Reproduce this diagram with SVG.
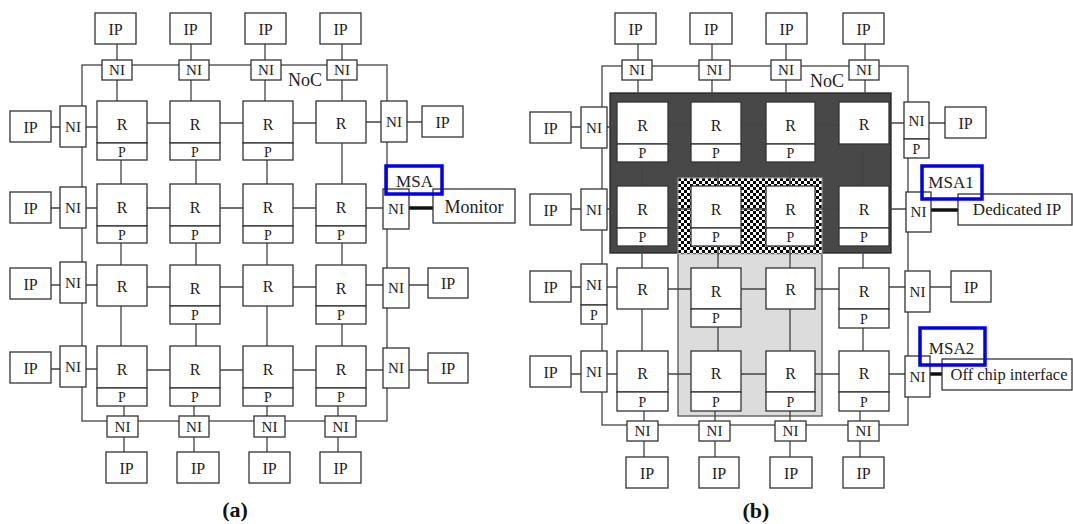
<svg xmlns="http://www.w3.org/2000/svg" width="1073" height="524" viewBox="0 0 1073 524">
<defs>
<pattern id="chk" width="6" height="6" patternUnits="userSpaceOnUse" x="678" y="178">
<rect x="0" y="0" width="6" height="6" fill="#fff"/>
<rect x="0" y="0" width="3" height="3" fill="#000"/>
<rect x="3" y="3" width="3" height="3" fill="#000"/>
</pattern>
<style>
.b{fill:#fff;stroke:#333;stroke-width:1.3}
.ln{stroke:#444;stroke-width:1.3;fill:none}
.th{stroke:#111;stroke-width:3.5;fill:none}
.t{font-family:"Liberation Serif","Times New Roman",serif;fill:#222;text-anchor:middle}
.s16{font-size:16px}
.s15{font-size:15px}
.s14{font-size:14px}
.s17{font-size:17px}
.msa{fill:none;stroke:#0000ee;stroke-width:3.5}
.lbl{font-family:"Liberation Serif",serif;font-weight:bold;font-size:22px;fill:#111;text-anchor:middle}
</style>
</defs>
<rect width="1073" height="524" fill="#fff"/>

<g id="regions">
<rect x="610" y="93" width="281" height="160" fill="#484848" stroke="#222" stroke-width="1.3"/>
<rect x="678" y="253" width="144" height="163" fill="#dcdcdc" stroke="#555" stroke-width="1.3"/>
<rect x="678" y="178" width="144" height="76" fill="url(#chk)" stroke="#aaa" stroke-width="1"/>
</g>

<g id="connectors">
<rect class="ln" x="82" y="65" width="305" height="356"/>
<path class="ln" d="M51 127H97M147 123H316M366 122H422"/>
<path class="ln" d="M51 208H97M147 208H383"/>
<path class="ln" d="M51 285H97M147 287H316M366 285H428"/>
<path class="ln" d="M51 369H97M147 370H316M366 370H428"/>
<path class="ln" d="M117 44V101M121 160V346M124 406V452"/>
<path class="ln" d="M191 44V101M196 160V346M194 406V452"/>
<path class="ln" d="M265 44V101M267 160V346M267 406V452"/>
<path class="ln" d="M342 44V101M342 143V346M338 406V452"/>
<line class="th" x1="409" y1="208" x2="433" y2="208"/>
<rect class="ln" x="602" y="66" width="306" height="359"/>
<path class="ln" d="M571 127H617M668 125H839M889 123H945" stroke="#222"/>
<path class="ln" d="M571 209H617M668 209H839M889 209H906" stroke="#222"/>
<path class="ln" d="M571 287H617M668 289H839M889 287H951"/>
<path class="ln" d="M571 374H617M668 374H839M889 374H905"/>
<path class="ln" d="M638 44V102M642 160V351M644 410V457" stroke="#222"/>
<path class="ln" d="M712 44V102M718 160V351M715 410V457" stroke="#222"/>
<path class="ln" d="M786 44V102M790 160V351M790 410V457" stroke="#222"/>
<path class="ln" d="M865 44V102M863 144V351M860 410V457" stroke="#222"/>
<line class="th" x1="931" y1="210" x2="958" y2="210"/>
<line class="th" x1="930" y1="374" x2="942" y2="374"/>
</g>

<g id="a-ip-t1"><rect class="b" x="95" y="13" width="41" height="31"/><text class="t s16" x="115.5" y="34.5">IP</text></g>
<g id="a-ip-t2"><rect class="b" x="170" y="13" width="41" height="31"/><text class="t s16" x="190.5" y="34.5">IP</text></g>
<g id="a-ip-t3"><rect class="b" x="245" y="13" width="41" height="31"/><text class="t s16" x="265.5" y="34.5">IP</text></g>
<g id="a-ip-t4"><rect class="b" x="320" y="13" width="41" height="31"/><text class="t s16" x="340.5" y="34.5">IP</text></g>
<g id="a-ni-t1"><rect class="b" x="102" y="60" width="30" height="20"/><text class="t s15" x="117" y="75.3">NI</text></g>
<g id="a-ni-t2"><rect class="b" x="179" y="60" width="30" height="20"/><text class="t s15" x="194" y="75.3">NI</text></g>
<g id="a-ni-t3"><rect class="b" x="251" y="60" width="30" height="20"/><text class="t s15" x="266" y="75.3">NI</text></g>
<g id="a-ni-t4"><rect class="b" x="327" y="60" width="30" height="20"/><text class="t s15" x="342" y="75.3">NI</text></g>
<g id="a-noc"><text class="t" style="font-size:18px;text-anchor:start" x="288" y="86">NoC</text></g>

<g id="a-ip-l1"><rect class="b" x="10" y="111" width="41" height="31"/><text class="t s16" x="30.5" y="132.5">IP</text></g>
<g id="a-ip-l2"><rect class="b" x="10" y="192" width="41" height="31"/><text class="t s16" x="30.5" y="213.5">IP</text></g>
<g id="a-ip-l3"><rect class="b" x="10" y="268" width="41" height="31"/><text class="t s16" x="30.5" y="289.5">IP</text></g>
<g id="a-ip-l4"><rect class="b" x="10" y="352" width="41" height="31"/><text class="t s16" x="30.5" y="373.5">IP</text></g>
<g id="a-ni-l1"><rect class="b" x="60" y="106" width="26" height="41"/><text class="t s15" x="73" y="131.8">NI</text></g>
<g id="a-ni-l2"><rect class="b" x="60" y="187" width="26" height="41"/><text class="t s15" x="73" y="212.8">NI</text></g>
<g id="a-ni-l3"><rect class="b" x="60" y="262" width="26" height="41"/><text class="t s15" x="73" y="287.8">NI</text></g>
<g id="a-ni-l4"><rect class="b" x="60" y="346" width="26" height="41"/><text class="t s15" x="73" y="371.8">NI</text></g>

<g id="a-r11"><rect class="b" x="97" y="101" width="50" height="42"/><rect class="b" x="97" y="143" width="50" height="17"/><text class="t s16" x="122" y="130">R</text><text class="t s14" x="122" y="156.5">P</text></g>
<g id="a-r12"><rect class="b" x="170" y="101" width="50" height="42"/><rect class="b" x="170" y="143" width="50" height="17"/><text class="t s16" x="195" y="130">R</text><text class="t s14" x="195" y="156.5">P</text></g>
<g id="a-r13"><rect class="b" x="243" y="101" width="50" height="42"/><rect class="b" x="243" y="143" width="50" height="17"/><text class="t s16" x="268" y="130">R</text><text class="t s14" x="268" y="156.5">P</text></g>
<g id="a-r14"><rect class="b" x="316" y="101" width="50" height="42"/><text class="t s16" x="341" y="129">R</text></g>

<g id="a-r21"><rect class="b" x="97" y="184" width="50" height="42"/><rect class="b" x="97" y="226" width="50" height="17"/><text class="t s16" x="122" y="213">R</text><text class="t s14" x="122" y="239.5">P</text></g>
<g id="a-r22"><rect class="b" x="170" y="184" width="50" height="42"/><rect class="b" x="170" y="226" width="50" height="17"/><text class="t s16" x="195" y="213">R</text><text class="t s14" x="195" y="239.5">P</text></g>
<g id="a-r23"><rect class="b" x="243" y="184" width="50" height="42"/><rect class="b" x="243" y="226" width="50" height="17"/><text class="t s16" x="268" y="213">R</text><text class="t s14" x="268" y="239.5">P</text></g>
<g id="a-r24"><rect class="b" x="316" y="184" width="50" height="42"/><rect class="b" x="316" y="226" width="50" height="17"/><text class="t s16" x="341" y="213">R</text><text class="t s14" x="341" y="239.5">P</text></g>

<g id="a-r31"><rect class="b" x="97" y="265" width="50" height="41"/><text class="t s16" x="122" y="292">R</text></g>
<g id="a-r32"><rect class="b" x="170" y="265" width="50" height="41"/><rect class="b" x="170" y="306" width="50" height="18"/><text class="t s16" x="195" y="294">R</text><text class="t s14" x="195" y="320">P</text></g>
<g id="a-r33"><rect class="b" x="243" y="265" width="50" height="41"/><text class="t s16" x="268" y="292">R</text></g>
<g id="a-r34"><rect class="b" x="316" y="265" width="50" height="41"/><rect class="b" x="316" y="306" width="50" height="18"/><text class="t s16" x="341" y="294">R</text><text class="t s14" x="341" y="320">P</text></g>

<g id="a-r41"><rect class="b" x="97" y="346" width="50" height="42"/><rect class="b" x="97" y="388" width="50" height="18"/><text class="t s16" x="122" y="375">R</text><text class="t s14" x="122" y="402">P</text></g>
<g id="a-r42"><rect class="b" x="170" y="346" width="50" height="42"/><rect class="b" x="170" y="388" width="50" height="18"/><text class="t s16" x="195" y="375">R</text><text class="t s14" x="195" y="402">P</text></g>
<g id="a-r43"><rect class="b" x="243" y="346" width="50" height="42"/><rect class="b" x="243" y="388" width="50" height="18"/><text class="t s16" x="268" y="375">R</text><text class="t s14" x="268" y="402">P</text></g>
<g id="a-r44"><rect class="b" x="316" y="346" width="50" height="42"/><rect class="b" x="316" y="388" width="50" height="18"/><text class="t s16" x="341" y="375">R</text><text class="t s14" x="341" y="402">P</text></g>

<g id="a-ni-r1"><rect class="b" x="381" y="101" width="26" height="41"/><text class="t s15" x="394" y="126.8">NI</text></g>
<g id="a-ni-r2"><rect class="b" x="383" y="189" width="26" height="40"/><text class="t s15" x="396" y="214.3">NI</text></g>
<g id="a-ni-r3"><rect class="b" x="383" y="268" width="26" height="40"/><text class="t s15" x="396" y="293.3">NI</text></g>
<g id="a-ni-r4"><rect class="b" x="383" y="348" width="26" height="40"/><text class="t s15" x="396" y="373.3">NI</text></g>
<g id="a-ip-r1"><rect class="b" x="422" y="106" width="41" height="31"/><text class="t s16" x="442.5" y="127.5">IP</text></g>
<g id="a-ip-r3"><rect class="b" x="428" y="268" width="40" height="30"/><text class="t s16" x="448" y="289">IP</text></g>
<g id="a-ip-r4"><rect class="b" x="428" y="353" width="40" height="30"/><text class="t s16" x="448" y="374">IP</text></g>
<g id="a-monitor"><rect class="b" x="433" y="189" width="82" height="34"/><text class="t" style="font-size:18px" x="474" y="212.5">Monitor</text></g>
<g id="a-msa"><rect class="msa" x="386" y="166" width="56" height="28"/><text class="t s17" x="414.5" y="187">MSA</text></g>

<g id="a-ni-b1"><rect class="b" x="107" y="416" width="31" height="21"/><text class="t s15" x="122.5" y="431.8">NI</text></g>
<g id="a-ni-b2"><rect class="b" x="179" y="416" width="30" height="21"/><text class="t s15" x="194" y="431.8">NI</text></g>
<g id="a-ni-b3"><rect class="b" x="254" y="416" width="31" height="21"/><text class="t s15" x="269.5" y="431.8">NI</text></g>
<g id="a-ni-b4"><rect class="b" x="325" y="416" width="31" height="21"/><text class="t s15" x="340.5" y="431.8">NI</text></g>
<g id="a-ip-b1"><rect class="b" x="106" y="452" width="41" height="31"/><text class="t s16" x="126.5" y="473.5">IP</text></g>
<g id="a-ip-b2"><rect class="b" x="177" y="452" width="42" height="31"/><text class="t s16" x="198" y="473.5">IP</text></g>
<g id="a-ip-b3"><rect class="b" x="249" y="452" width="41" height="31"/><text class="t s16" x="269.5" y="473.5">IP</text></g>
<g id="a-ip-b4"><rect class="b" x="320" y="452" width="41" height="31"/><text class="t s16" x="340.5" y="473.5">IP</text></g>
<g id="a-label"><text class="lbl" x="235" y="517">(a)</text></g>

<g id="b-ip-t1"><rect class="b" x="615" y="13" width="41" height="31"/><text class="t s16" x="635.5" y="34.5">IP</text></g>
<g id="b-ip-t2"><rect class="b" x="690" y="13" width="42" height="31"/><text class="t s16" x="711" y="34.5">IP</text></g>
<g id="b-ip-t3"><rect class="b" x="766" y="13" width="41" height="31"/><text class="t s16" x="786.5" y="34.5">IP</text></g>
<g id="b-ip-t4"><rect class="b" x="843" y="13" width="41" height="31"/><text class="t s16" x="863.5" y="34.5">IP</text></g>
<g id="b-ni-t1"><rect class="b" x="622" y="60" width="30" height="20"/><text class="t s15" x="637" y="75.3">NI</text></g>
<g id="b-ni-t2"><rect class="b" x="699" y="60" width="31" height="20"/><text class="t s15" x="714.5" y="75.3">NI</text></g>
<g id="b-ni-t3"><rect class="b" x="771" y="60" width="30" height="20"/><text class="t s15" x="786" y="75.3">NI</text></g>
<g id="b-ni-t4"><rect class="b" x="849" y="60" width="30" height="20"/><text class="t s15" x="864" y="75.3">NI</text></g>
<g id="b-noc"><text class="t" style="font-size:18px;text-anchor:start" x="810" y="87">NoC</text></g>

<g id="b-ip-l1"><rect class="b" x="530" y="112" width="41" height="31"/><text class="t s16" x="550.5" y="133.5">IP</text></g>
<g id="b-ip-l2"><rect class="b" x="530" y="194" width="41" height="31"/><text class="t s16" x="550.5" y="215.5">IP</text></g>
<g id="b-ip-l3"><rect class="b" x="530" y="271" width="41" height="31"/><text class="t s16" x="550.5" y="292.5">IP</text></g>
<g id="b-ip-l4"><rect class="b" x="530" y="356" width="41" height="31"/><text class="t s16" x="550.5" y="377.5">IP</text></g>
<g id="b-ni-l1"><rect class="b" x="581" y="107" width="26" height="41"/><text class="t s15" x="594" y="132.8">NI</text></g>
<g id="b-ni-l2"><rect class="b" x="581" y="189" width="26" height="41"/><text class="t s15" x="594" y="214.8">NI</text></g>
<g id="b-ni-l3"><rect class="b" x="581" y="264" width="26" height="41"/><rect class="b" x="581" y="305" width="26" height="19"/><text class="t s15" x="594" y="289.8">NI</text><text class="t s14" x="594" y="319.5">P</text></g>
<g id="b-ni-l4"><rect class="b" x="581" y="351" width="26" height="41"/><text class="t s15" x="594" y="376.8">NI</text></g>

<g id="b-r11"><rect class="b" x="617" y="102" width="51" height="42"/><rect class="b" x="617" y="144" width="51" height="18"/><text class="t s16" x="642.5" y="131">R</text><text class="t s14" x="642.5" y="158">P</text></g>
<g id="b-r12"><rect class="b" x="691" y="102" width="50" height="42"/><rect class="b" x="691" y="144" width="50" height="18"/><text class="t s16" x="716" y="131">R</text><text class="t s14" x="716" y="158">P</text></g>
<g id="b-r13"><rect class="b" x="766" y="102" width="49" height="42"/><rect class="b" x="766" y="144" width="49" height="18"/><text class="t s16" x="790.5" y="131">R</text><text class="t s14" x="790.5" y="158">P</text></g>
<g id="b-r14"><rect class="b" x="839" y="102" width="50" height="42"/><text class="t s16" x="864" y="130">R</text></g>

<g id="b-r21"><rect class="b" x="617" y="186" width="51" height="42"/><rect class="b" x="617" y="228" width="51" height="18"/><text class="t s16" x="642.5" y="215">R</text><text class="t s14" x="642.5" y="242">P</text></g>
<g id="b-r22"><rect class="b" x="691" y="186" width="50" height="42"/><rect class="b" x="691" y="228" width="50" height="18"/><text class="t s16" x="716" y="215">R</text><text class="t s14" x="716" y="242">P</text></g>
<g id="b-r23"><rect class="b" x="766" y="186" width="49" height="42"/><rect class="b" x="766" y="228" width="49" height="18"/><text class="t s16" x="790.5" y="215">R</text><text class="t s14" x="790.5" y="242">P</text></g>
<g id="b-r24"><rect class="b" x="839" y="186" width="50" height="42"/><rect class="b" x="839" y="228" width="50" height="18"/><text class="t s16" x="864" y="215">R</text><text class="t s14" x="864" y="242">P</text></g>

<g id="b-r31"><rect class="b" x="617" y="268" width="51" height="41"/><text class="t s16" x="642.5" y="295">R</text></g>
<g id="b-r32"><rect class="b" x="691" y="268" width="50" height="41"/><rect class="b" x="691" y="309" width="50" height="18"/><text class="t s16" x="716" y="297">R</text><text class="t s14" x="716" y="323">P</text></g>
<g id="b-r33"><rect class="b" x="766" y="268" width="49" height="41"/><text class="t s16" x="790.5" y="295">R</text></g>
<g id="b-r34"><rect class="b" x="839" y="268" width="50" height="41"/><rect class="b" x="839" y="309" width="50" height="19"/><text class="t s16" x="864" y="297">R</text><text class="t s14" x="864" y="323.5">P</text></g>

<g id="b-r41"><rect class="b" x="617" y="351" width="51" height="41"/><rect class="b" x="617" y="392" width="51" height="19"/><text class="t s16" x="642.5" y="379">R</text><text class="t s14" x="642.5" y="406.5">P</text></g>
<g id="b-r42"><rect class="b" x="691" y="351" width="50" height="41"/><rect class="b" x="691" y="392" width="50" height="19"/><text class="t s16" x="716" y="379">R</text><text class="t s14" x="716" y="406.5">P</text></g>
<g id="b-r43"><rect class="b" x="766" y="351" width="49" height="41"/><rect class="b" x="766" y="392" width="49" height="19"/><text class="t s16" x="790.5" y="379">R</text><text class="t s14" x="790.5" y="406.5">P</text></g>
<g id="b-r44"><rect class="b" x="839" y="351" width="50" height="41"/><rect class="b" x="839" y="392" width="50" height="19"/><text class="t s16" x="864" y="379">R</text><text class="t s14" x="864" y="406.5">P</text></g>

<g id="b-ni-r1"><rect class="b" x="904" y="102" width="25" height="37"/><rect class="b" x="904" y="139" width="25" height="19"/><text class="t s15" x="916.5" y="125.8">NI</text><text class="t s14" x="916.5" y="153.5">P</text></g>
<g id="b-ni-r2"><rect class="b" x="906" y="192" width="25" height="40"/><text class="t s15" x="918.5" y="217.3">NI</text></g>
<g id="b-ni-r3"><rect class="b" x="905" y="271" width="25" height="41"/><text class="t s15" x="917.5" y="296.8">NI</text></g>
<g id="b-ni-r4"><rect class="b" x="905" y="356" width="25" height="41"/><text class="t s15" x="917.5" y="381.8">NI</text></g>
<g id="b-ip-r1"><rect class="b" x="945" y="107" width="41" height="31"/><text class="t s16" x="965.5" y="128.5">IP</text></g>
<g id="b-ip-r3"><rect class="b" x="951" y="271" width="40" height="31"/><text class="t s16" x="971" y="292.5">IP</text></g>
<g id="b-dedicated"><rect class="b" x="958" y="194" width="114" height="31"/><text class="t s17" x="1017" y="215">Dedicated IP</text></g>
<g id="b-offchip"><rect class="b" x="942" y="359" width="130" height="31"/><text class="t" style="font-size:16.5px" x="1009" y="379.5">Off chip interface</text></g>
<g id="b-msa1"><rect class="msa" x="922" y="166" width="60" height="33"/><text class="t s17" x="951" y="188.3">MSA1</text></g>
<g id="b-msa2"><rect class="msa" x="920" y="328" width="65" height="37"/><text class="t s17" x="951.5" y="353.7">MSA2</text></g>

<g id="b-ni-b1"><rect class="b" x="627" y="421" width="31" height="20"/><text class="t s15" x="642.5" y="436.3">NI</text></g>
<g id="b-ni-b2"><rect class="b" x="699" y="421" width="31" height="20"/><text class="t s15" x="714.5" y="436.3">NI</text></g>
<g id="b-ni-b3"><rect class="b" x="775" y="421" width="31" height="20"/><text class="t s15" x="790.5" y="436.3">NI</text></g>
<g id="b-ni-b4"><rect class="b" x="848" y="421" width="31" height="20"/><text class="t s15" x="863.5" y="436.3">NI</text></g>
<g id="b-ip-b1"><rect class="b" x="626" y="457" width="42" height="31"/><text class="t s16" x="647" y="478.5">IP</text></g>
<g id="b-ip-b2"><rect class="b" x="699" y="457" width="40" height="31"/><text class="t s16" x="719" y="478.5">IP</text></g>
<g id="b-ip-b3"><rect class="b" x="770" y="457" width="42" height="31"/><text class="t s16" x="791" y="478.5">IP</text></g>
<g id="b-ip-b4"><rect class="b" x="843" y="457" width="41" height="31"/><text class="t s16" x="863.5" y="478.5">IP</text></g>
<g id="b-label"><text class="lbl" x="756" y="518">(b)</text></g>
</svg>
